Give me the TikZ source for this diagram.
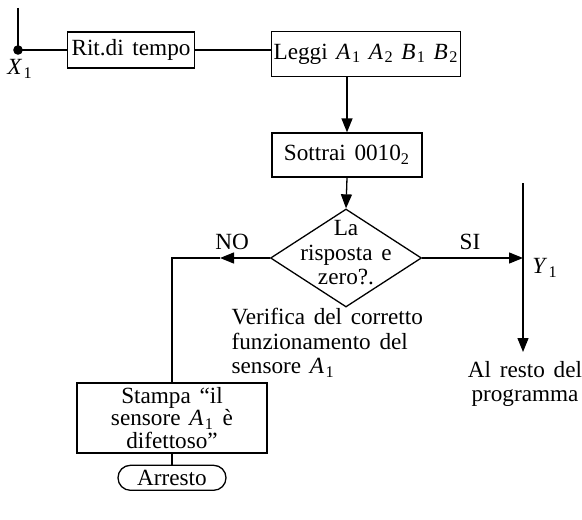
\documentclass[tikz,border=0pt]{standalone}
\usepackage{fontspec}
\setmainfont[WordSpace=1.5]{Liberation Serif}
\usetikzlibrary{shapes.geometric, positioning, arrows.meta}

\tikzset{
  blocco/.style={draw, rectangle, inner sep=1pt, align=center},
  freccia/.style={-{Triangle[length=7pt,width=5.5pt]}},
  every node/.style={font=\fontsize{11.6}{12.25}\selectfont},
}
\newcommand{\idx}[2]{\textit{#1}\kern0.7pt\textsubscript{#2}}

\begin{document}
\begin{tikzpicture}[x=0.5pt, y=-0.5pt, line width=0.65pt]
        \useasboundingbox (0,0) rectangle (582,519);
        \coordinate (top) at (18,8);
        \coordinate (X) at (18,50);

        \node[blocco, minimum width=63.5pt, minimum height=18pt] (rit) at (131,50) {Rit.di tempo};
        \node[blocco, minimum width=94.5pt, minimum height=22.5pt, inner sep=0pt] (leggi) at (366,54) {Leggi \idx{A}{1}\kern-0.5pt\ \idx{A}{2}\kern-0.5pt\ \idx{B}{1}\kern-0.5pt\ \idx{B}{2}};
        \node[blocco, minimum width=75pt, minimum height=22pt] (sott) at (347,155) {Sottrai 0010\textsubscript{2}};
        \node[draw, diamond, minimum width=75.5pt, minimum height=49pt, inner sep=0pt] (dia) at (346,258) {};
        \node[align=center] (domanda) at (346,253) {La\\risposta e\\zero?.};
        \node[blocco, minimum width=95pt, minimum height=35pt, font=\fontsize{11.6}{11.3}\selectfont] (stampa) at (172,418) {Stampa ``il\\sensore \idx{A}{1} è\\difettoso''};
        \node[draw, rounded corners=6.2pt, minimum width=54pt, minimum height=12.5pt, inner sep=1pt, below=5.5pt of stampa] (arresto) {Arresto};

        % ingresso X1
        \draw (top) -- (X) -- (rit.west);
        \fill (X) circle (2.4pt);
        \node (x1) at (20,69) {\idx{X}{1}};
        \draw (rit.east) -- (rit.east -| leggi.west);

        \draw[freccia] (leggi.south -| sott) -- (sott.north);
        \draw[freccia] (sott.south) -- (dia.north);

        % ramo NO
        \coordinate (no) at (220,258);
        \draw[freccia] (dia.west) -- (no);
        \draw (no) -- (no -| stampa.north) -- (stampa.north);
        \node (nolab) at (232,242) {NO};
        \draw (stampa.south) -- (arresto.north);

        % ramo SI
        \coordinate (ytop) at (523,183);
        \coordinate (ybot) at (523,352);
        \draw[freccia] (ytop) -- (ybot);
        \draw[freccia] (dia.east) -- (dia.east -| ytop);
        \node (silab) at (470,242) {SI};
        \node (y1) at (545,268) {\idx{Y}{1}};

        \node[align=center] (resto) at (525,384) {Al resto del\\programma};
        \node[align=left, anchor=west, inner sep=0pt] (verifica) at (231,343) {Verifica del corretto\\funzionamento del\\sensore \idx{A}{1}};
    \end{tikzpicture}
\end{document}
